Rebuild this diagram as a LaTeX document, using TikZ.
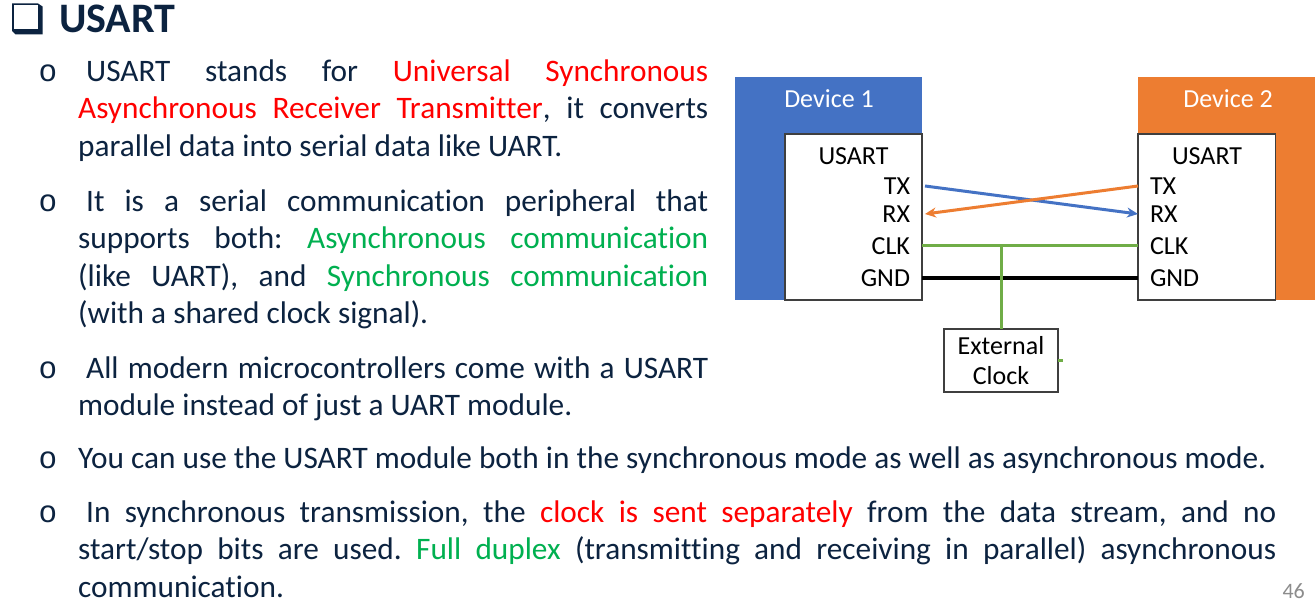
\documentclass[tikz,border=0pt]{standalone}
\usepackage{fontspec}
\setmainfont{Carlito}[Ligatures=NoCommon]
\newfontfamily\bulfont{Liberation Mono}
\usepackage{tikz}
\usetikzlibrary{arrows.meta,positioning}
\definecolor{navy}{HTML}{0C2340}
\definecolor{devblue}{HTML}{4472C4}
\definecolor{devorange}{HTML}{ED7D31}
\definecolor{clkgreen}{HTML}{70AD47}
\definecolor{txtgreen}{HTML}{00B050}
\definecolor{txtred}{HTML}{FF0000}
\definecolor{pagegray}{HTML}{8C8C8C}
\definecolor{edgegray}{HTML}{3F3F3F}
\newcommand{\hired}[1]{{\color{txtred}#1}}
\newcommand{\higreen}[1]{{\color{txtgreen}#1}}
\tolerance=10000 \hbadness=10000 \frenchspacing
\tikzset{
  para/.style={anchor=base west, inner sep=0pt, text=navy, align=justify,
    font=\frenchspacing\fontsize{31.3}{37.3}\selectfont},
  bul/.style={anchor=base, inner sep=0pt, text=navy, font=\bulfont\fontsize{31}{31}\selectfont},
  devbox/.style={anchor=north west, inner sep=0pt, outer sep=0pt, minimum height=223pt},
  usartbox/.style={anchor=north west, inner sep=0pt, outer sep=0pt, fill=white,
    draw=edgegray, line width=1.2pt, minimum width=137pt, minimum height=166pt},
  dfont/.style={font=\fontsize{26}{30}\selectfont},
  devlbl/.style={dfont, text=white, inner sep=0pt},
  usartlbl/.style={dfont, text=black, inner sep=0pt},
  pinl/.style={dfont, anchor=east, inner xsep=12pt, inner ysep=0pt, outer sep=0pt},
  pinr/.style={dfont, anchor=west, inner xsep=12pt, inner ysep=0pt, outer sep=0pt},
  extbox/.style={dfont, draw=edgegray, line width=1.2pt, fill=white, align=center,
    minimum width=114pt, minimum height=63pt, inner sep=0pt, outer sep=0pt},
  sigline/.style={line width=3pt, -{Stealth[length=11pt,width=10pt]}},
  clkline/.style={line width=3pt, draw=clkgreen},
}
\begin{document}
\begin{tikzpicture}[x=1pt, y=-1pt]
   \useasboundingbox (0,0) rectangle (1315,609);
   \fill[white] (0,0) rectangle (1315,609);
   % title
   \fill[navy] (12,3.5) -- (38,3.5) -- (42.5,6.5) -- (42.5,34.3) -- (15.5,34.3) -- (12,31) -- cycle;
   \fill[white] (13.8,5.3) rectangle (37.5,29.5);
   \node[anchor=base west, inner sep=0pt, text=navy, font=\bfseries\fontsize{42}{42}\selectfont] (title) at (59,33) {USART};
   % bullets
   \node[bul] (b1) at (48,81.5) {o};
   \node[bul] (b2) at (48,211.5) {o};
   \node[bul] (b3) at (48,378.5) {o};
   \node[bul] (b4) at (48,468.5) {o};
   \node[bul] (b5) at (48,522.5) {o};
   % text
   \node[para, text width=630pt] (p1) at (78,81.5) {\hspace*{8pt}USART stands for \hired{Universal Synchronous}\linebreak
     \hired{Asynchronous Receiver Transmitter}, it converts\linebreak parallel data into serial data like UART.};
   \node[para, text width=630pt] (p2) at (78,211.5) {\hspace*{8pt}It is a serial communication peripheral that\linebreak
     supports both: \higreen{Asynchronous communication}\linebreak (like UART), and \higreen{Synchronous communication}\linebreak
     (with a shared clock signal).};
   \node[para, text width=630pt] (p3) at (78,378.5) {\hspace*{8pt}All modern microcontrollers come with a USART\linebreak
     module instead of just a UART module.};
   \node[para, text width=1200pt] (p4) at (78,468.5) {You can use the USART module both in the synchronous mode as well as asynchronous mode.};
   \node[para, text width=1198pt] (p5) at (78,522.5) {\hspace*{8pt}In synchronous transmission, the \hired{clock is sent separately} from the data stream, and no\linebreak
     start/stop bits are used. \higreen{Full duplex} (transmitting and receiving in parallel) asynchronous\linebreak communication.};
   \node[anchor=base east, inner sep=0pt, text=pagegray, font=\fontsize{22}{22}\selectfont] (pg) at (1305,598) {46};
   % devices
   \node[devbox, fill=devblue, minimum width=187pt] (dev1) at (735,77) {};
   \node[devbox, fill=devorange, minimum width=182pt] (dev2) at (1138,77) {};
   \node[devlbl] (d1name) at (829,99) {Device 1};
   \node[devlbl] (d2name) at (1228,99) {Device 2};
   \node[usartbox] (u1) at (785,134) {};
   \node[usartbox, minimum width=137.5pt] (u2) at (1138,134) {};
   \node[usartlbl] (u1name) at (853.5,156) {USART};
   \node[usartlbl] (u2name) at (1207,156) {USART};
   % pins
   \node[pinl] (tx1) at (922,186) {TX};
   \node[pinl] (rx1) at (922,214) {RX};
   \node[pinl] (clk1) at (922,246) {CLK};
   \node[pinl] (gnd1) at (922,278) {GND};
   \node[pinr] (tx2) at (1138,186) {TX};
   \node[pinr] (rx2) at (1138,214) {RX};
   \node[pinr] (clk2) at (1138,246) {CLK};
   \node[pinr] (gnd2) at (1138,278) {GND};
   \node[extbox] (ext) at (1001,360.5) {External\\Clock};
   % wires
   \draw[sigline, draw=devblue, fill=devblue] ([xshift=3pt]tx1.east) -- (rx2.west);
   \draw[sigline, draw=devorange, fill=devorange] (tx2.west) -- ([xshift=3pt]rx1.east);
   \draw[line width=4pt] (gnd1.east) -- (gnd2.west);
   \draw[clkline] (clk1.east) -- (clk2.west);
   \draw[clkline] (ext.north) -- (ext.north |- clk1.east);
   \draw[clkline] (ext.east) -- ++(5,0);
\end{tikzpicture}
\end{document}
